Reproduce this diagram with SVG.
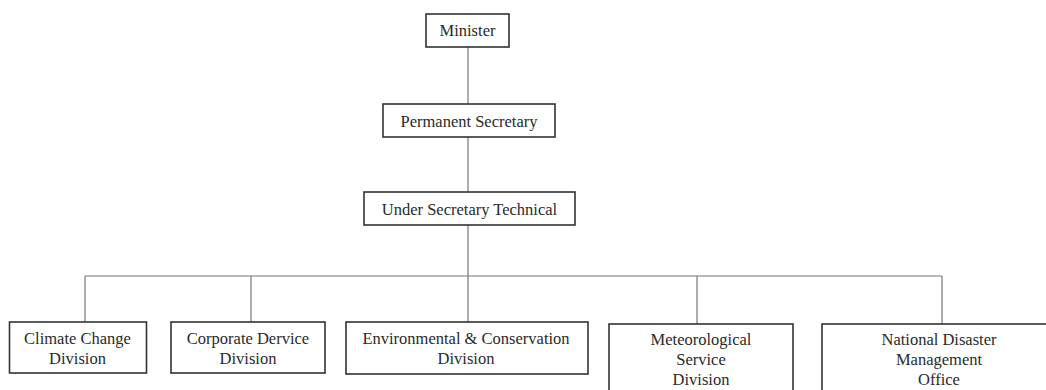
<svg xmlns="http://www.w3.org/2000/svg" width="1046" height="390" viewBox="0 0 1046 390">
<style>
.box{fill:#fff;stroke:#333;stroke-width:1.6}
.ln{stroke:#777;stroke-width:1.2;fill:none}
text{font-family:"Liberation Serif","Times New Roman",serif;font-size:16.5px;fill:#2a2a2a;text-anchor:middle}
</style>
<rect width="1046" height="390" fill="#fff"/>
<g id="connectors">
<path class="ln" d="M468 47V104M468 137V192M468 225V276"/>
<path class="ln" d="M85 276H942M85 276V322M251 276V322M468 276V322M697 276V324M942 276V324"/>
</g>
<g id="minister"><rect class="box" x="426" y="14" width="83" height="33"/><text x="467.5" y="36">Minister</text></g>
<g id="permanent-secretary"><rect class="box" x="383" y="104" width="172" height="33"/><text x="469" y="126.5">Permanent Secretary</text></g>
<g id="under-secretary"><rect class="box" x="364" y="192" width="211" height="33"/><text x="469.5" y="215">Under Secretary Technical</text></g>
<g id="climate"><rect class="box" x="9.5" y="322" width="137" height="51"/><text x="77.5" y="343.5">Climate Change</text><text x="77.5" y="364">Division</text></g>
<g id="corporate"><rect class="box" x="171" y="322" width="154" height="51"/><text x="248" y="343.5">Corporate Dervice</text><text x="248" y="364">Division</text></g>
<g id="environmental"><rect class="box" x="346" y="322" width="242" height="52"/><text x="466" y="344">Environmental &amp; Conservation</text><text x="466" y="364">Division</text></g>
<g id="meteorological"><rect class="box" x="609" y="324" width="184" height="80"/><text x="701" y="345">Meteorological</text><text x="701" y="365">Service</text><text x="701" y="384.5">Division</text></g>
<g id="national"><rect class="box" x="822" y="324" width="240" height="80"/><text x="939" y="345">National Disaster</text><text x="939" y="365">Management</text><text x="939" y="384.5">Office</text></g>
</svg>
